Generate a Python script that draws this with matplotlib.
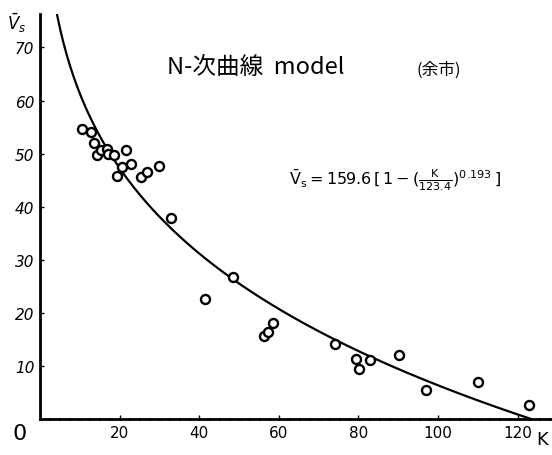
import numpy as np
import matplotlib.pyplot as plt

plt.rcParams['font.family'] = ['Noto Sans CJK JP', 'DejaVu Sans']

# observed points (K, mean speed Vs)
k_obs = [10.6, 12.7, 13.6, 14.4, 15.2, 16.8, 17.2, 18.6, 19.4, 20.5, 21.6, 22.8,
         25.5, 26.8, 30.0, 32.9, 41.5, 48.6, 56.3, 57.4, 58.6, 74.1, 79.3, 80.2,
         82.9, 90.3, 97.0, 110.1, 123.0]
v_obs = [54.7, 54.0, 52.0, 49.7, 50.6, 50.8, 49.9, 49.7, 45.8, 47.4, 50.6, 48.1,
         45.6, 46.5, 47.7, 37.8, 22.7, 26.7, 15.6, 16.3, 18.1, 14.2, 11.3, 9.5,
         11.1, 12.0, 5.4, 6.9, 2.7]

# model parameters
v0 = 159.6
kj = 123.4
n = 0.193

x_ticks = [20, 40, 60, 80, 100, 120]
y_ticks = [10, 20, 30, 40, 50, 60, 70]

fig = plt.figure(figsize=(5.52, 4.56), dpi=100)
ax = fig.add_axes([0.0725, 0.079, 0.927, 0.888])

kk = np.linspace(4.3, kj, 300)
vv = v0 * (1 - (kk / kj) ** n)
ax.plot(kk, vv, color='black', lw=1.6)
ax.plot(k_obs, v_obs, 'o', mfc='white', mec='black', ms=6.5, mew=1.7)

ax.set_xlim(0, 128.6)
ax.set_ylim(0, 76.3)
for s in ['top', 'right']:
    ax.spines[s].set_visible(False)
ax.spines['left'].set_linewidth(2)
ax.spines['bottom'].set_linewidth(2)
ax.spines['bottom'].set_linestyle((0, (3, 0.6)))

ax.set_xticks(x_ticks)
ax.set_yticks(y_ticks)
ax.set_xticklabels([str(t) for t in x_ticks], fontsize=11, family='DejaVu Sans')
ax.set_yticklabels([str(t) for t in y_ticks], fontsize=11, style='italic',
                   family='DejaVu Sans')
ax.tick_params(axis='both', direction='in', length=3, width=1, pad=4)

ax.text(-0.04, -0.01, '0', transform=ax.transAxes, fontsize=16,
        ha='center', va='top', family='DejaVu Sans')
fig.text(0.983, 0.035, 'K', fontsize=13, ha='center', va='center', family='DejaVu Sans')
fig.text(0.03, 0.975, r'$\bar{V}_s$', fontsize=12, ha='center', va='top')

fig.text(0.464, 0.853, 'N-次曲線  model', fontsize=17, ha='center', va='center')
fig.text(0.794, 0.846, '(余市)', fontsize=12, ha='center', va='center')
fig.text(0.716, 0.605,
         r'$\mathrm{\bar{V}_s = 159.6\,[\,1-(\frac{K}{123.4})^{0.193}\,]}$',
         fontsize=11.5, ha='center', va='center')

fig.savefig('out.png', dpi=100)
